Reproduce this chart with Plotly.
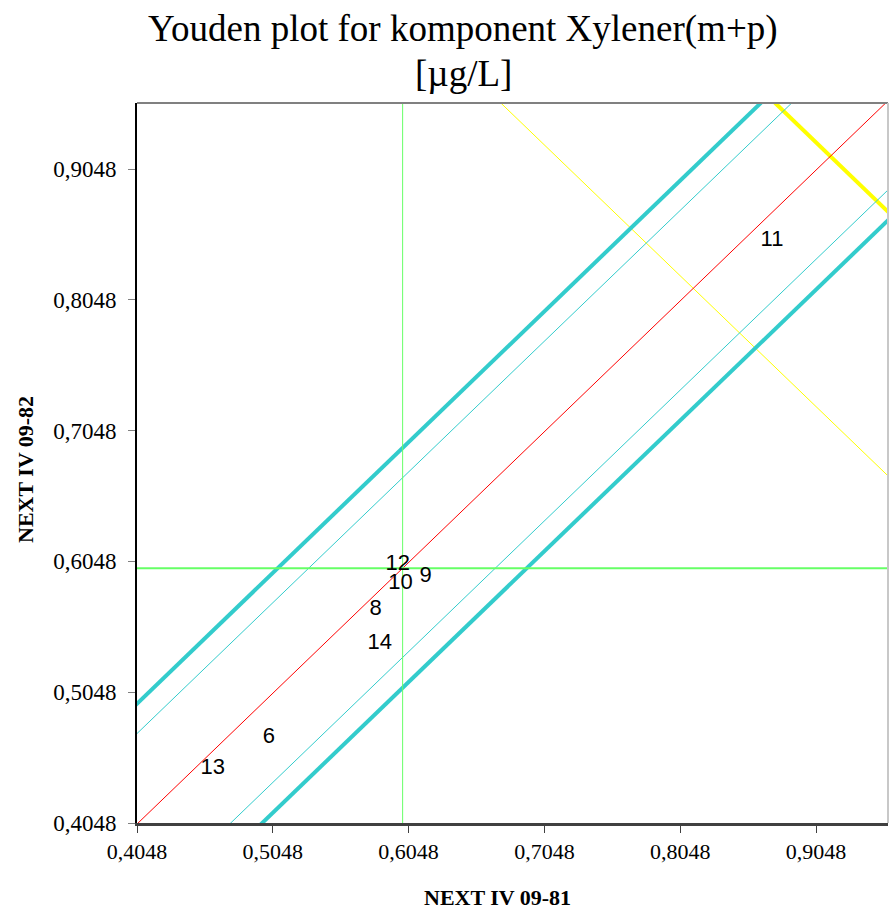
import plotly.graph_objects as go

# Axis settings
x_range = [0.4048, 0.9578]
y_range = [0.4048, 0.9553]
tick_vals = [0.4048, 0.5048, 0.6048, 0.7048, 0.8048, 0.9048]
tick_text = ["0,4048", "0,5048", "0,6048", "0,7048", "0,8048", "0,9048"]

# Laboratory results
labs = ["11", "12", "10", "9", "8", "14", "6", "13"]
x_vals = [0.8724, 0.5968, 0.5989, 0.6173, 0.5805, 0.5835, 0.5019, 0.4606]
y_vals = [0.8498, 0.6024, 0.5880, 0.5936, 0.5684, 0.5417, 0.4698, 0.4461]

# Medians
median_x = 0.6004
median_y = 0.5996

# Diagonal line offsets (y = x + offset)
red_offset = median_y - median_x
thin_offsets = [0.0684, -0.0690]
thick_offsets = [0.0912, -0.0922]

# Perpendicular lines (x + y = const)
yellow_thin_sum = 1.628
yellow_thick_sum = 1.830

W, H = 889, 914
ML, MT, MR, MB = 137, 103, 1, 91
PW = W - ML - MR
PH = H - MT - MB

fig = go.Figure()

xs = [x_range[0] - 0.1, x_range[1] + 0.1]


def diag(off):
    return [x + off for x in xs]


def perp(s):
    return [s - x for x in xs]


fig.add_trace(go.Scatter(x=xs, y=perp(yellow_thin_sum), mode="lines",
                         line=dict(color="#FFFF00", width=1), hoverinfo="skip"))
fig.add_trace(go.Scatter(x=xs, y=perp(yellow_thick_sum), mode="lines",
                         line=dict(color="#FFFF00", width=4), hoverinfo="skip"))
for off in thin_offsets:
    fig.add_trace(go.Scatter(x=xs, y=diag(off), mode="lines",
                             line=dict(color="#33CCCC", width=1), hoverinfo="skip"))
for off in thick_offsets:
    fig.add_trace(go.Scatter(x=xs, y=diag(off), mode="lines",
                             line=dict(color="#33CCCC", width=4), hoverinfo="skip"))
fig.add_trace(go.Scatter(x=xs, y=diag(red_offset), mode="lines",
                         line=dict(color="#FF0000", width=1), hoverinfo="skip"))
fig.add_trace(go.Scatter(x=[median_x, median_x], y=[y_range[0], y_range[1]], mode="lines",
                         line=dict(color="#66FF66", width=1), hoverinfo="skip"))
fig.add_trace(go.Scatter(x=[x_range[0], x_range[1]], y=[median_y, median_y], mode="lines",
                         line=dict(color="#66FF66", width=2), hoverinfo="skip"))

fig.add_trace(go.Scatter(x=x_vals, y=y_vals, mode="text", text=labs,
                         textposition="middle center",
                         textfont=dict(family="Liberation Sans, Arial", size=22, color="black")))

fig.update_layout(
    width=W, height=H,
    margin=dict(l=ML, r=MR, t=MT, b=MB),
    paper_bgcolor="white", plot_bgcolor="white",
    showlegend=False,
    font=dict(family="Liberation Serif, Times New Roman", color="black"),
)

fig.update_xaxes(range=x_range, tickvals=tick_vals, ticktext=tick_text,
                 showgrid=False, zeroline=False,
                 showline=True, linecolor="#404040", linewidth=3,
                 ticks="outside", ticklen=7, tickcolor="#404040", tickwidth=1,
                 tickfont=dict(family="Liberation Serif", size=22, color="black"))
fig.update_yaxes(range=y_range, tickvals=tick_vals, ticktext=tick_text,
                 showgrid=False, zeroline=False,
                 showline=True, linecolor="black", linewidth=2,
                 ticks="outside", ticklen=7, tickcolor="#808080", tickwidth=1,
                 ticklabelstandoff=7,
                 tickfont=dict(family="Liberation Serif", size=23, color="black"))

# frame: top and right borders
fig.add_shape(type="line", xref="paper", yref="paper", x0=0, x1=1, y0=1, y1=1,
              line=dict(color="#808080", width=2))
fig.add_shape(type="line", xref="paper", yref="paper", x0=1, x1=1, y0=0, y1=1,
              line=dict(color="#C8C8C8", width=2))


def px(xp):
    return (xp - ML) / PW


def py(yp):
    return (H - MB - yp) / PH


# titles
fig.add_annotation(text="Youden plot for komponent Xylener(m+p)", xref="paper", yref="paper",
                   x=px(463), y=py(29), xanchor="center", yanchor="middle", showarrow=False,
                   font=dict(family="Liberation Serif", size=37, color="black"))
fig.add_annotation(text="[µg/L]", xref="paper", yref="paper",
                   x=px(463), y=py(74), xanchor="center", yanchor="middle", showarrow=False,
                   font=dict(family="Liberation Serif", size=37, color="black"))
fig.add_annotation(text="<b>NEXT IV 09-81</b>", xref="paper", yref="paper",
                   x=px(497), y=py(897), xanchor="center", yanchor="middle", showarrow=False,
                   font=dict(family="Liberation Serif", size=22, color="black"))
fig.add_annotation(text="<b>NEXT IV 09-82</b>", xref="paper", yref="paper",
                   x=px(25), y=py(470), xanchor="center", yanchor="middle", showarrow=False,
                   textangle=-90,
                   font=dict(family="Liberation Serif", size=22, color="black"))

fig.write_html("out.html", config={"displayModeBar": False},
               post_script="document.body.style.margin='0';document.body.style.overflow='hidden';")
